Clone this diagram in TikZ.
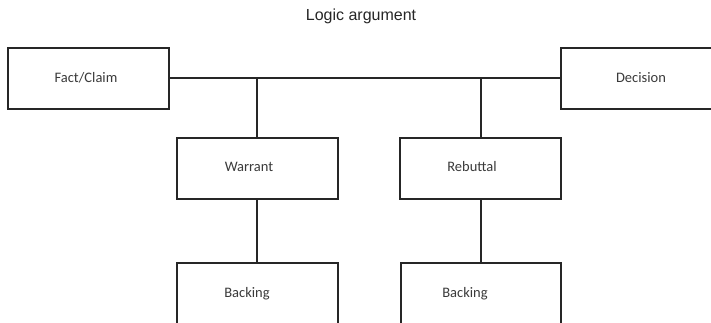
\documentclass[tikz,border=0pt]{standalone}
\usepackage{fontspec}
\setmainfont{Carlito}
\newfontfamily\titlefont{Liberation Sans}
\definecolor{lineC}{HTML}{262626}
\definecolor{textC}{HTML}{3A3A3A}
\begin{document}
\begin{tikzpicture}[x=1pt,y=-1pt,
  boxC/.style={draw=lineC,line width=2.2pt,fill=white},
  conn/.style={draw=lineC,line width=2pt},
  lbl/.style={text=textC,font=\fontsize{14.5}{16}\selectfont,inner sep=0pt}]
\useasboundingbox (0,0) rectangle (711,323);
\clip (0,0) rectangle (711,323);
\node[text=black!85,font=\titlefont\fontsize{16}{18}\selectfont,inner sep=0pt] (title) at (361,16) {Logic argument};
% connectors
\coordinate (hL) at (169,78);
\coordinate (hR) at (561,78);
\coordinate (jW) at (257,78);
\coordinate (jR) at (481,78);
\coordinate (wTop) at (257,138);
\coordinate (rTop) at (481,138);
\coordinate (wBot) at (257,199);
\coordinate (rBot) at (481,199);
\coordinate (bwTop) at (257,263);
\coordinate (brTop) at (481,263);
\draw[conn] (hL) -- (hR);
\draw[conn] (jW) -- (wTop);
\draw[conn] (jR) -- (rTop);
\draw[conn] (wBot) -- (bwTop);
\draw[conn] (rBot) -- (brTop);
% boxes
\draw[boxC] (8,48) rectangle (169,109);
\draw[boxC] (561,48) rectangle (722,109);
\draw[boxC] (177,138) rectangle (338,199);
\draw[boxC] (400,138) rectangle (561,199);
\draw[boxC] (177,263) rectangle (338,330);
\draw[boxC] (401,263) rectangle (561,330);
% labels
\node[lbl] (fact) at (86,78) {Fact/Claim};
\node[lbl] (dec) at (641,78) {Decision};
\node[lbl] (war) at (249,167) {Warrant};
\node[lbl] (reb) at (472,167) {Rebuttal};
\node[lbl] (back1) at (247,294) {Backing};
\node[lbl] (back2) at (465,294) {Backing};
\end{tikzpicture}
\end{document}
